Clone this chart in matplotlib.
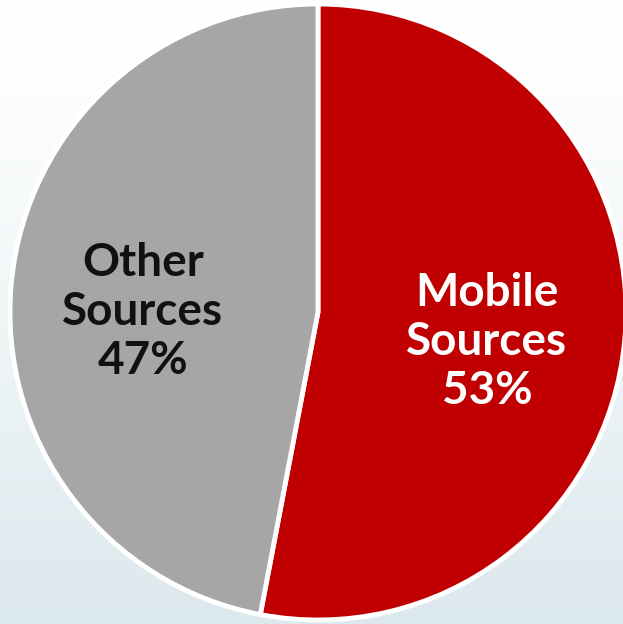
import numpy as np
import matplotlib.pyplot as plt

labels = ["Mobile\nSources\n53%", "Other\nSources\n47%"]
shares = [53, 47]
colors = ["#c00000", "#a6a6a6"]
text_colors = ["white", "#111111"]
label_pos = [(487, 282), (143, 312)]

fig = plt.figure(figsize=(6.23, 6.24), dpi=100)
ax = fig.add_axes([0, 0, 1, 1])

# background gradient, white on top to pale blue at the bottom
grad = np.linspace(0, 1, 256).reshape(-1, 1)
top = np.array([1.0, 1.0, 1.0])
bot = np.array([219, 232, 237]) / 255
img = top + (bot - top) * grad[..., None] ** 1.3
ax.imshow(img, extent=[0, 623, 0, 624], origin="upper", aspect="auto", zorder=0)

ax.pie(shares, colors=colors, startangle=90, counterclock=False,
       center=(318, 312), radius=308,
       wedgeprops=dict(edgecolor="white", linewidth=3.5), frame=True)
ax.set_xlim(0, 623)
ax.set_ylim(0, 624)
ax.set_aspect("equal")
ax.axis("off")

for lab, (x, y), c in zip(labels, label_pos, text_colors):
    ax.text(x, y, lab, ha="center", va="center", color=c,
            fontsize=33, fontweight="bold", family="Lato", linespacing=1.22)

fig.savefig("out.png", dpi=100)
